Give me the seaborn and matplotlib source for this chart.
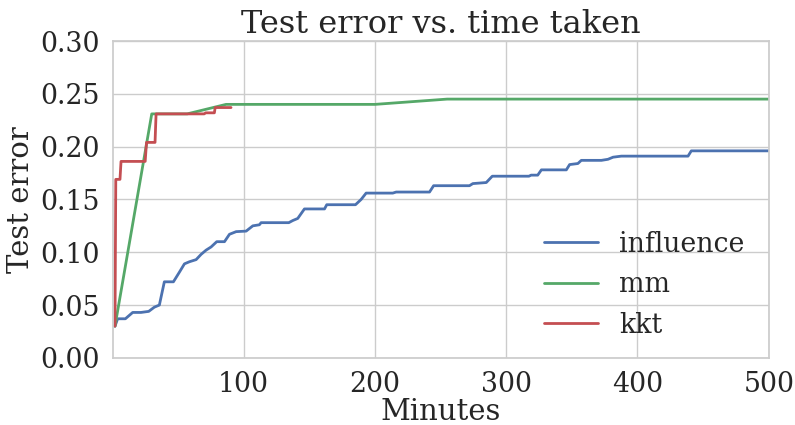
import numpy as np
import pandas as pd
import matplotlib
matplotlib.use("Agg")
import matplotlib.pyplot as plt
import seaborn as sns

# minutes / test error
influence_t = [2, 4, 9.9, 15.5, 21.8, 27.7, 32, 35.8, 39.6, 46.5, 51, 54.9, 58.7, 63.8,
               67.6, 71.4, 75.2, 79.5, 85.4, 89.2, 94.3, 101.9, 107, 112, 113.3, 134.4,
               137.4, 141.2, 146.3, 161.6, 163.3, 185.2, 189.5, 193.3, 213.6, 216.2,
               241.6, 244.7, 272, 274.6, 284.8, 289.4, 317.3, 319, 324, 326.8, 345.8,
               348.3, 354.6, 357.2, 372.5, 377.5, 381.4, 387.7, 438.5, 441, 500]
influence_err = [0.03, 0.037, 0.037, 0.043, 0.043, 0.044, 0.048, 0.05, 0.072, 0.072,
                 0.081, 0.089, 0.091, 0.093, 0.098, 0.102, 0.105, 0.11, 0.11, 0.117,
                 0.1195, 0.12, 0.125, 0.126, 0.128, 0.128, 0.13, 0.132, 0.141, 0.141,
                 0.145, 0.145, 0.15, 0.156, 0.156, 0.157, 0.157, 0.163, 0.163, 0.165,
                 0.166, 0.172, 0.172, 0.173, 0.173, 0.178, 0.178, 0.183, 0.184, 0.187,
                 0.187, 0.188, 0.19, 0.191, 0.191, 0.196, 0.196]

mm_t = [2, 30, 57, 86.6, 200, 255, 500]
mm_err = [0.03, 0.231, 0.231, 0.24, 0.24, 0.245, 0.245]

kkt_t = [2, 2.6, 5.8, 6.6, 25, 26, 32.5, 33.3, 70, 71, 77.7, 78.3, 90.4]
kkt_err = [0.03, 0.169, 0.169, 0.186, 0.186, 0.204, 0.204, 0.231, 0.231, 0.232,
           0.232, 0.237, 0.237]

df = pd.concat([
    pd.DataFrame({"Minutes": influence_t, "Test error": influence_err, "method": "influence"}),
    pd.DataFrame({"Minutes": mm_t, "Test error": mm_err, "method": "mm"}),
    pd.DataFrame({"Minutes": kkt_t, "Test error": kkt_err, "method": "kkt"}),
], ignore_index=True)

sns.set_theme(style="whitegrid", font_scale=1.75)
plt.rcParams["font.family"] = ["DejaVu Serif"]

fig, ax = plt.subplots(figsize=(7.95, 4.25), dpi=100)
sns.lineplot(data=df, x="Minutes", y="Test error", hue="method", sort=False,
             estimator=None, palette=["#4C72B0", "#55A868", "#C44E52"],
             linewidth=2, ax=ax)
ax.set_xlim(0.4, 500)
ax.set_ylim(0, 0.30)
ax.set_xticks([100, 200, 300, 400, 500])
ax.set_yticks(np.arange(0, 0.31, 0.05))
ax.set_yticklabels(["%.2f" % v for v in np.arange(0, 0.31, 0.05)])
ax.set_xlabel("Minutes", labelpad=0)
ax.set_title("Test error vs. time taken", fontsize=23)
ax.legend(title=None, frameon=False, loc="lower right", bbox_to_anchor=(1.0, -0.015))
fig.subplots_adjust(left=0.142, right=0.967, top=0.9035, bottom=0.158)
fig.savefig("out.png")
